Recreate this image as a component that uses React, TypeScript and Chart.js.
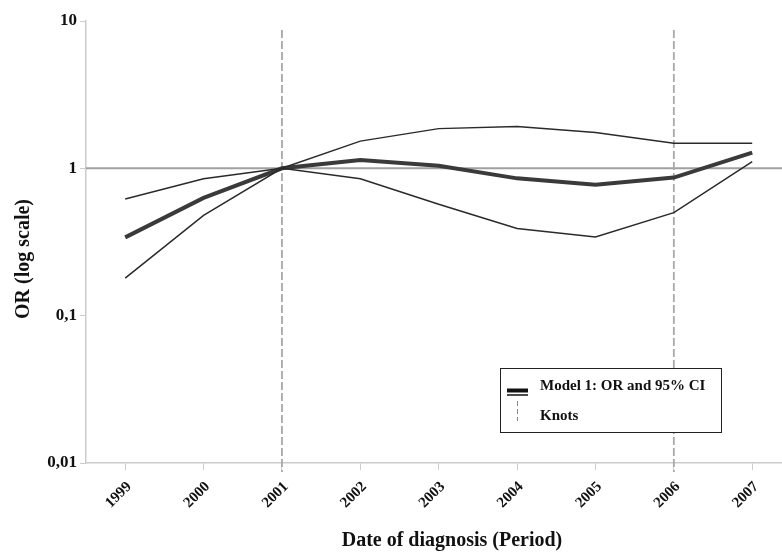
import React, { useEffect, useRef } from "react";
import { Chart, registerables } from "chart.js";

Chart.register(...registerables);

// ---- Data ----
const years = [1999, 2000, 2001, 2002, 2003, 2004, 2005, 2006, 2007];
const orValues = [0.34, 0.63, 1.0, 1.14, 1.04, 0.855, 0.775, 0.865, 1.28];
const upperCI = [0.62, 0.85, 1.0, 1.53, 1.86, 1.92, 1.75, 1.48, 1.48];
const lowerCI = [0.18, 0.48, 1.0, 0.85, 0.57, 0.39, 0.342, 0.5, 1.11];
const knots = [2001, 2006];
const referenceOR = 1;
const yTickValues = [0.01, 0.1, 1, 10];
const yTickLabels = ["0,01", "0,1", "1", "10"];
const xTitle = "Date of diagnosis (Period)";
const yTitle = "OR (log scale)";
const legendLabels = ["Model 1: OR and 95% CI", "Knots"];

const FONT = "'Liberation Serif', 'Times New Roman', serif";

const toPoints = (vals: number[]) => years.map((y, i) => ({ x: y, y: vals[i] }));

const decorPlugin = {
  id: "decor",
  beforeDatasetsDraw(chart: any) {
    const { ctx, chartArea, scales } = chart;
    const xs = scales.x;
    const ys = scales.y;
    ctx.save();
    // reference line at OR = 1
    const yRef = ys.getPixelForValue(referenceOR);
    ctx.strokeStyle = "#a0a0a0";
    ctx.lineWidth = 2;
    ctx.beginPath();
    ctx.moveTo(chartArea.left, yRef);
    ctx.lineTo(chartArea.right, yRef);
    ctx.stroke();
    // knots
    ctx.strokeStyle = "#a8a8a8";
    ctx.lineWidth = 1.8;
    ctx.setLineDash([8, 3]);
    knots.forEach((k) => {
      const px = xs.getPixelForValue(k);
      ctx.beginPath();
      ctx.moveTo(px, chartArea.top + 9);
      ctx.lineTo(px, chartArea.bottom + 9);
      ctx.stroke();
    });
    ctx.restore();
  },
  afterDraw(chart: any) {
    const { ctx } = chart;
    ctx.save();
    // axis titles
    ctx.fillStyle = "#111";
    ctx.font = `bold 20px ${FONT}`;
    ctx.textAlign = "center";
    ctx.textBaseline = "middle";
    ctx.fillText(xTitle, 452, 541);
    ctx.save();
    ctx.translate(24, 259);
    ctx.rotate(-Math.PI / 2);
    ctx.fillText(yTitle, 0, 0);
    ctx.restore();

    // legend box
    const bx = 500.5, by = 368.5, bw = 221, bh = 64;
    ctx.fillStyle = "#fff";
    ctx.fillRect(bx, by, bw, bh);
    ctx.strokeStyle = "#222";
    ctx.lineWidth = 1;
    ctx.strokeRect(bx, by, bw, bh);
    // OR + CI sample
    ctx.strokeStyle = "#111";
    ctx.lineWidth = 4;
    ctx.beginPath();
    ctx.moveTo(507, 390.5);
    ctx.lineTo(528, 390.5);
    ctx.stroke();
    ctx.lineWidth = 1.5;
    ctx.beginPath();
    ctx.moveTo(507, 395);
    ctx.lineTo(528, 395);
    ctx.stroke();
    // knots sample
    ctx.strokeStyle = "#888";
    ctx.lineWidth = 1;
    ctx.setLineDash([5, 3]);
    ctx.beginPath();
    ctx.moveTo(517.5, 401);
    ctx.lineTo(517.5, 421);
    ctx.stroke();
    ctx.setLineDash([]);
    ctx.fillStyle = "#111";
    ctx.font = `bold 15px ${FONT}`;
    ctx.textAlign = "left";
    ctx.textBaseline = "middle";
    ctx.fillText(legendLabels[0], 540, 386);
    ctx.fillText(legendLabels[1], 540, 416);
    ctx.restore();
  },
};

export default function App() {
  const canvasRef = useRef<HTMLCanvasElement | null>(null);

  useEffect(() => {
    if (!canvasRef.current) return;
    const chart = new Chart(canvasRef.current, {
      type: "line",
      data: {
        datasets: [
          {
            label: "Upper 95% CI",
            data: toPoints(upperCI),
            borderColor: "#2a2a2a",
            borderWidth: 1.5,
            pointRadius: 0,
            tension: 0,
            fill: false,
          },
          {
            label: "Lower 95% CI",
            data: toPoints(lowerCI),
            borderColor: "#2a2a2a",
            borderWidth: 1.5,
            pointRadius: 0,
            tension: 0,
            fill: false,
          },
          {
            label: "OR",
            data: toPoints(orValues),
            borderColor: "#3a3a3a",
            borderWidth: 4,
            pointRadius: 0,
            tension: 0,
            fill: false,
          },
        ],
      },
      options: {
        responsive: false,
        animation: false,
        layout: { padding: { top: 21, left: 0, right: 0, bottom: 0 } },
        plugins: {
          legend: { display: false },
          tooltip: { enabled: false },
        },
        scales: {
          x: {
            type: "linear",
            min: 1998.5,
            max: 2007.38,
            afterBuildTicks: (scale: any) => {
              scale.ticks = years.map((v) => ({ value: v }));
            },
            afterFit: (scale: any) => {
              scale.height = 92;
            },
            ticks: {
              autoSkip: false,
              minRotation: 45,
              maxRotation: 45,
              padding: 8,
              labelOffset: 4,
              color: "#111",
              font: { family: FONT, size: 15, weight: "bold" },
              callback: (v: any) => String(v),
            },
            grid: {
              drawOnChartArea: false,
              color: "#cccccc",
              tickLength: 7,
            },
            border: { color: "#cccccc", width: 1.5 },
          },
          y: {
            type: "logarithmic",
            min: 0.01,
            max: 10,
            afterBuildTicks: (scale: any) => {
              scale.ticks = yTickValues.map((v) => ({ value: v }));
            },
            afterFit: (scale: any) => {
              scale.width = 86;
            },
            ticks: {
              padding: 3,
              color: "#111",
              font: { family: FONT, size: 17, weight: "bold" },
              callback: (v: any) => {
                let best = 0;
                yTickValues.forEach((t, i) => {
                  if (Math.abs(Math.log10(t) - Math.log10(v)) < Math.abs(Math.log10(yTickValues[best]) - Math.log10(v))) best = i;
                });
                return yTickLabels[best];
              },
            },
            grid: {
              drawOnChartArea: false,
              color: "#cccccc",
              tickLength: 6,
            },
            border: { color: "#cccccc", width: 1.5 },
          },
        },
      },
      plugins: [decorPlugin],
    } as any);
    return () => chart.destroy();
  }, []);

  return (
    <div style={{ position: "absolute", left: 0, top: 0, width: 782, height: 555, background: "#fff" }}>
      <canvas ref={canvasRef} width={782} height={555} style={{ display: "block" }} />
    </div>
  );
}
